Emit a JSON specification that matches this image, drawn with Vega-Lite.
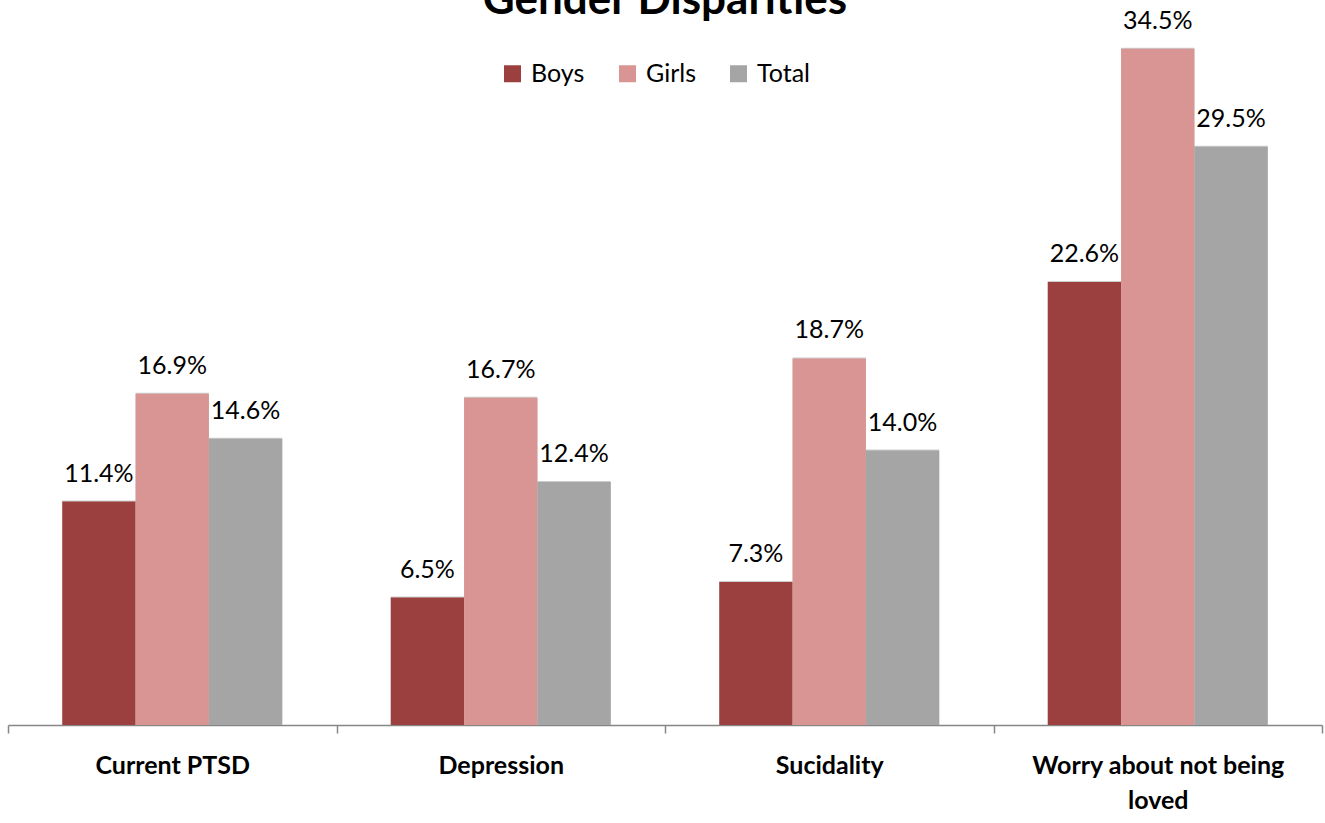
{
  "$schema": "https://vega.github.io/schema/vega-lite/v6.json",
  "autosize": {"type": "none"},
  "padding": {"left": 8, "top": 30, "right": 3, "bottom": 98},
  "width": 1314,
  "height": 695,
  "background": "white",
  "title": {
    "text": "Gender Disparities",
    "font": "Lato",
    "fontSize": 44,
    "fontWeight": "bold",
    "color": "#000000",
    "anchor": "middle",
    "frame": "group",
    "baseline": "alphabetic",
    "offset": 0,
    "dy": 49
  },
  "config": {
    "view": {"stroke": null},
    "font": "Lato"
  },
  "data": {
    "values": [
      {"category": "Current PTSD", "group": "Boys", "value": 0.114},
      {"category": "Current PTSD", "group": "Girls", "value": 0.169},
      {"category": "Current PTSD", "group": "Total", "value": 0.146},
      {"category": "Depression", "group": "Boys", "value": 0.065},
      {"category": "Depression", "group": "Girls", "value": 0.167},
      {"category": "Depression", "group": "Total", "value": 0.124},
      {"category": "Sucidality", "group": "Boys", "value": 0.073},
      {"category": "Sucidality", "group": "Girls", "value": 0.187},
      {"category": "Sucidality", "group": "Total", "value": 0.140},
      {"category": "Worry about not being loved", "group": "Boys", "value": 0.226},
      {"category": "Worry about not being loved", "group": "Girls", "value": 0.345},
      {"category": "Worry about not being loved", "group": "Total", "value": 0.295}
    ]
  },
  "encoding": {
    "x": {
      "field": "category",
      "type": "nominal",
      "sort": null,
      "scale": {"paddingInner": 0, "paddingOuter": 0},
      "axis": {
        "title": null,
        "labelAngle": 0,
        "labelFont": "Lato",
        "labelFontSize": 25,
        "labelFontWeight": "bold",
        "labelColor": "#000000",
        "labelPadding": 20,
        "labelLineHeight": 35,
        "labelLimit": 400,
        "labelExpr": "datum.label == 'Worry about not being loved' ? ['Worry about not being', 'loved'] : datum.label",
        "domainColor": "#868686",
        "domainWidth": 1.5,
        "tickColor": "#868686",
        "tickWidth": 1.5,
        "tickSize": 8,
        "tickBand": "extent"
      }
    },
    "xOffset": {
      "field": "group",
      "type": "nominal",
      "sort": ["Boys", "Girls", "Total"],
      "scale": {"paddingInner": 0, "paddingOuter": 0.74}
    },
    "y": {
      "field": "value",
      "type": "quantitative",
      "scale": {"domain": [0, 0.3546], "nice": false},
      "axis": null
    }
  },
  "layer": [
    {
      "mark": {"type": "bar", "color": "#000000", "opacity": 0.2, "xOffset": 5, "yOffset": -1},
      "encoding": {}
    },
    {
      "mark": {"type": "bar"},
      "encoding": {
        "color": {
          "field": "group",
          "type": "nominal",
          "sort": ["Boys", "Girls", "Total"],
          "scale": {"domain": ["Boys", "Girls", "Total"], "range": ["#9C403F", "#D99594", "#A5A5A5"]},
          "legend": {
            "title": null,
            "orient": "none",
            "direction": "horizontal",
            "legendX": 492,
            "legendY": 31,
            "symbolType": "square",
            "symbolSize": 289,
            "symbolStrokeWidth": 0,
            "labelFont": "Lato",
            "labelFontSize": 25,
            "labelColor": "#000000",
            "labelOffset": 6,
            "columnPadding": 30
          }
        }
      }
    },
    {
      "mark": {"type": "text", "baseline": "alphabetic", "dy": -20, "font": "Lato", "fontSize": 25, "color": "#000000"},
      "encoding": {
        "text": {"field": "value", "type": "quantitative", "format": ".1%"}
      }
    }
  ]
}
